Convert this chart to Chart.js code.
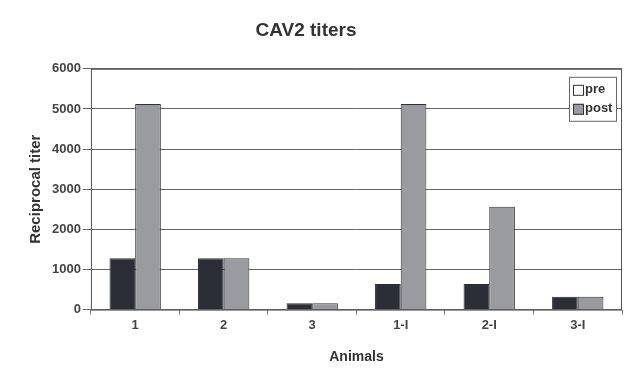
<!DOCTYPE html>
<html>
<head>
<meta charset="utf-8">
<script src="https://cdn.jsdelivr.net/npm/chart.js@4"></script>
<style>
  html, body { margin: 0; padding: 0; background: #fff; }
  #wrap { width: 644px; height: 374px; }
</style>
</head>
<body>
<div id="wrap"><canvas id="titerChart"></canvas></div>
<script>
const animals = ['1', '2', '3', '1-I', '2-I', '3-I'];
const preTiters = [1280, 1280, 160, 640, 640, 320];
const postTiters = [5120, 1280, 160, 5120, 2560, 320];
const yTicks = [0, 1000, 2000, 3000, 4000, 5000, 6000];

document.addEventListener('DOMContentLoaded', function() {
    const ctx = document.getElementById('titerChart');
    const fontFamily = '"Liberation Sans", Arial, sans-serif';

    // frame around plot area + legend box inside top right
    const frameAndLegend = {
        id: 'frameAndLegend',
        afterDraw(chart) {
            const c = chart.ctx;
            const a = chart.chartArea;
            c.save();
            c.strokeStyle = '#555';
            c.lineWidth = 1;
            c.strokeRect(a.left + 0.5, a.top + 0.5, a.right - a.left - 1, a.bottom - a.top);

            const bx = a.right - 53, by = a.top + 8, bw = 47, bh = 44;
            c.fillStyle = '#fff';
            c.fillRect(bx, by, bw, bh);
            c.strokeStyle = '#666';
            c.strokeRect(bx + 0.5, by + 0.5, bw, bh);
            const items = [
                { text: 'pre', fill: '#ffffff' },
                { text: 'post', fill: '#9a9ba0' }
            ];
            c.font = 'bold 13px ' + fontFamily;
            c.textBaseline = 'middle';
            items.forEach((it, i) => {
                const y = by + 13 + i * 19;
                c.fillStyle = it.fill;
                c.fillRect(bx + 4, y - 5, 11, 11);
                c.strokeStyle = '#333';
                c.strokeRect(bx + 4.5, y - 4.5, 10, 10);
                c.fillStyle = '#333';
                c.fillText(it.text, bx + 16, y);
            });
            c.restore();
        }
    };

    new Chart(ctx, {
        type: 'bar',
        data: {
            labels: animals,
            datasets: [
                {
                    label: 'pre',
                    data: preTiters,
                    backgroundColor: '#2b2e36',
                    borderColor: '#2b2e36',
                    borderWidth: 1,
                    categoryPercentage: 0.58,
                    barPercentage: 1.0
                },
                {
                    label: 'post',
                    data: postTiters,
                    backgroundColor: '#9a9ba0',
                    borderColor: '#333',
                    borderWidth: 1,
                    categoryPercentage: 0.58,
                    barPercentage: 1.0
                }
            ]
        },
        options: {
            responsive: true,
            maintainAspectRatio: false,
            animation: false,
            // negative left padding shifts the title centre left like the original
            layout: { padding: { left: -10, right: 22, top: 15, bottom: 4 } },
            plugins: {
                legend: { display: false },
                tooltip: { enabled: false },
                title: {
                    display: true,
                    text: 'CAV2 titers',
                    color: '#333',
                    font: { size: 19, weight: 'bold', family: fontFamily },
                    padding: { top: 4, bottom: 27 }
                }
            },
            scales: {
                x: {
                    grid: {
                        display: true,
                        drawOnChartArea: false,
                        offset: true,
                        tickLength: 5,
                        color: '#777'
                    },
                    border: { display: false },
                    ticks: {
                        color: '#444',
                        font: { size: 13, weight: 'bold', family: fontFamily },
                        padding: 3
                    },
                    title: {
                        display: true,
                        text: 'Animals',
                        color: '#333',
                        font: { size: 14, weight: 'bold', family: fontFamily },
                        padding: { top: 13, bottom: 4 }
                    }
                },
                y: {
                    min: 0,
                    max: 6000,
                    afterBuildTicks(scale) {
                        scale.ticks = yTicks.map(v => ({ value: v }));
                    },
                    grid: {
                        color: '#666',
                        lineWidth: 1,
                        tickLength: 8
                    },
                    border: { display: false },
                    ticks: {
                        color: '#444',
                        font: { size: 13, weight: 'bold', family: fontFamily },
                        padding: 2,
                        callback: v => String(v)
                    },
                    title: {
                        display: true,
                        text: 'Reciprocal titer',
                        color: '#333',
                        font: { size: 15, weight: 'bold', family: fontFamily },
                        padding: { top: 37, bottom: 5 }
                    }
                }
            }
        },
        plugins: [frameAndLegend]
    });
});
</script>
</body>
</html>
